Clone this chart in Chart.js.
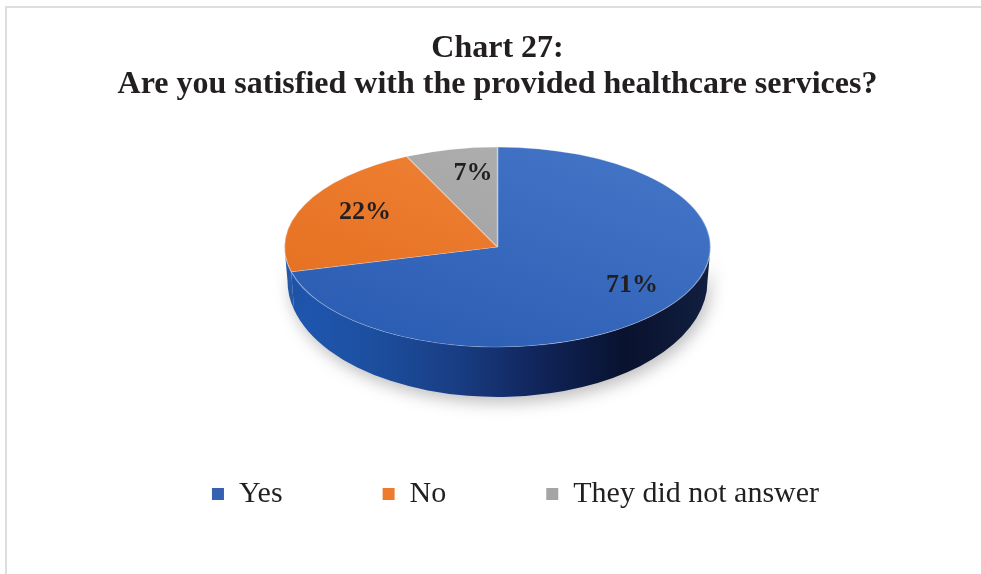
<!DOCTYPE html>
<html>
<head>
<meta charset="utf-8">
<script src="https://cdn.jsdelivr.net/npm/chart.js@4.4.0/dist/chart.umd.min.js"></script>
<style>
  html, body { margin: 0; padding: 0; background: #fff; overflow: hidden; }
  #wrap { position: relative; width: 981px; height: 574px; }
  #frame { position: absolute; left: 5px; top: 6px; width: 1000px; height: 600px;
           border-top: 2px solid #dedede; border-left: 2px solid #dedede; }
  canvas { position: relative; }
</style>
</head>
<body>
<div id="wrap">
  <div id="frame"></div>
  <canvas id="satisfactionPie"></canvas>
</div>
<script>
const answers = ['Yes', 'No', 'They did not answer'];
const shares = [71, 22, 7];

const SERIF = '"Liberation Serif", "Times New Roman", serif';
const INK = '#231f20';

// top face: light -> dark, side wall: left -> right
const topColors = [['#4677c8', '#2a5cb3'], ['#f3873b', '#e46e1f'], ['#b3b3b3', '#9b9b9b']];
const sideShades = [
  ['#1f58b2', '#1c4fa0', '#193e84', '#10245a', '#09122e', '#121f40'],
  ['#1f58b2', '#8a4513', '#6f360d', '#5a2a08', '#3f1d05', '#5a2a08'],
  ['#8a8a8a', '#7a7a7a', '#5f5f5f', '#474747', '#333333', '#474747']
];
const legendColors = ['#3561b0', '#ee7a2e', '#a5a5a5'];

// size of the tilted pie on screen
const PIE_RX = 213, PIE_RY = 100;
const DEPTH_SIDE = 34, DEPTH_FRONT = 50;

function faceGradient(context) {
  const chart = context.chart;
  const area = chart.chartArea;
  const pair = topColors[context.dataIndex];
  if (!area) return pair[0];
  const cx = (area.left + area.right) / 2, cy = (area.top + area.bottom) / 2;
  const r = Math.min(area.width, area.height) / 2;
  const g = chart.ctx.createLinearGradient(cx + r, cy - r, cx - r * 0.6, cy + r);
  g.addColorStop(0, pair[0]);
  g.addColorStop(1, pair[1]);
  return g;
}

const tiltedPie = {
  id: 'tiltedPie',
  beforeDatasetsDraw(chart) {
    const ctx = chart.ctx;
    const arcs = chart.getDatasetMeta(0).data;
    const cx = arcs[0].x, cy = arcs[0].y, r = arcs[0].outerRadius;
    const rxB = PIE_RX - 3, ryB = PIE_RY + DEPTH_FRONT - DEPTH_SIDE, cyB = cy + DEPTH_SIDE;

    // side wall of the slices facing the viewer
    ctx.save();
    ctx.shadowColor = 'rgba(0, 0, 0, 0.25)';
    ctx.shadowBlur = 16;
    ctx.shadowOffsetX = 3;
    ctx.shadowOffsetY = 6;
    arcs.forEach((arc, i) => {
      const a = Math.max(arc.startAngle, 0);
      const b = Math.min(arc.endAngle, Math.PI);
      if (a >= b) return;
      const g = ctx.createLinearGradient(cx - PIE_RX, 0, cx + PIE_RX, 0);
      const stops = sideShades[i];
      stops.forEach((c, k) => g.addColorStop(k / (stops.length - 1), c));
      ctx.beginPath();
      ctx.ellipse(cx, cy, PIE_RX, PIE_RY, 0, a, b);
      ctx.ellipse(cx, cyB, rxB, ryB, 0, b, a, true);
      ctx.closePath();
      ctx.fillStyle = g;
      ctx.fill();
    });
    ctx.restore();

    // squash the round pie into the tilted top face
    ctx.save();
    ctx.translate(cx, cy);
    ctx.scale(PIE_RX / r, PIE_RY / r);
    ctx.translate(-cx, -cy);
  },
  afterDatasetsDraw(chart) {
    const ctx = chart.ctx;
    ctx.restore();

    const arcs = chart.getDatasetMeta(0).data;
    const cx = arcs[0].x, cy = arcs[0].y;
    ctx.save();
    ctx.font = 'bold 26px ' + SERIF;
    ctx.fillStyle = INK;
    ctx.textAlign = 'center';
    ctx.textBaseline = 'middle';
    arcs.forEach((arc, i) => {
      const mid = (arc.startAngle + arc.endAngle) / 2;
      const x = cx + 10 + Math.cos(mid) * PIE_RX * 0.74;
      const y = cy + Math.sin(mid) * PIE_RY * 0.7 - 5;
      ctx.fillText(shares[i] + '%', x, y);
    });
    ctx.restore();
  }
};

// legend sits a little right of the title's centre line
const nudgeLegend = {
  id: 'nudgeLegend',
  afterLayout(chart) {
    chart.legend.left += 18;
    chart.legend.right += 18;
  }
};

new Chart(document.getElementById('satisfactionPie'), {
  type: 'pie',
  data: {
    labels: answers,
    datasets: [{
      data: shares,
      backgroundColor: faceGradient,
      borderColor: 'rgba(255, 255, 255, 0.3)',
      borderWidth: 1,
      clip: false
    }]
  },
  options: {
    responsive: true,
    maintainAspectRatio: false,
    animation: false,
    layout: { padding: { top: 21, left: 14, right: 0, bottom: 55 } },
    plugins: {
      title: {
        display: true,
        text: ['Chart 27:', 'Are you satisfied with the provided healthcare services?'],
        color: INK,
        font: { family: SERIF, size: 32, weight: 'bold', lineHeight: 1.125 },
        padding: { top: 10, bottom: 12 }
      },
      legend: {
        position: 'bottom',
        labels: {
          boxWidth: 12,
          boxHeight: 12,
          padding: 100,
          color: INK,
          font: { family: SERIF, size: 30 },
          generateLabels(chart) {
            const base = Chart.overrides.pie.plugins.legend.labels.generateLabels(chart);
            return base.map((item, i) => ({
              ...item,
              fillStyle: legendColors[i],
              strokeStyle: legendColors[i],
              lineWidth: 0
            }));
          }
        }
      },
      tooltip: { enabled: false }
    }
  },
  plugins: [tiltedPie, nudgeLegend]
});
</script>
</body>
</html>
